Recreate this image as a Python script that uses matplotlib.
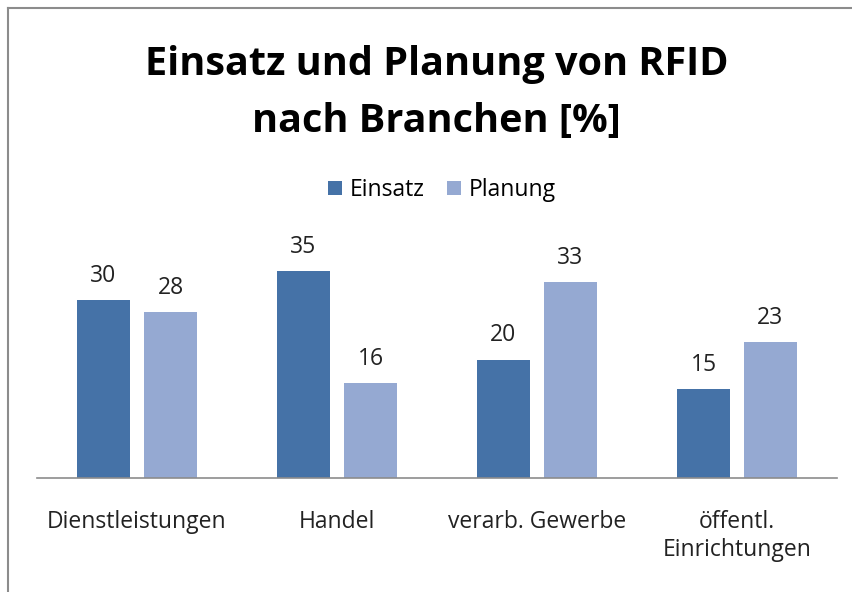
import matplotlib.pyplot as plt
import numpy as np
from matplotlib.lines import Line2D

plt.rcParams['font.family'] = ['Open Sans', 'DejaVu Sans']

branchen = ['Dienstleistungen', 'Handel', 'verarb. Gewerbe', 'öffentl.\nEinrichtungen']
einsatz = [30, 35, 20, 15]
planung = [28, 16, 33, 23]

c_einsatz = '#4572a7'
c_planung = '#95a9d2'

fig = plt.figure(figsize=(8.53, 5.92), dpi=100)
ax = fig.add_axes([37/853, 1 - 478/592, 800/853, 237/592])

x = np.arange(len(branchen))
w = 0.265
off = 0.1675
b1 = ax.bar(x - off, einsatz, w, color=c_einsatz, label='Einsatz')
b2 = ax.bar(x + off, planung, w, color=c_planung, label='Planung')

for bars, vals in ((b1, einsatz), (b2, planung)):
    for r, v in zip(bars, vals):
        ax.annotate(str(v), (r.get_x() + r.get_width()/2, v), xytext=(0, 13),
                    textcoords='offset points', ha='center', va='baseline',
                    fontsize=16.5, color='#222222')

ax.set_xlim(-0.5, len(branchen) - 0.5)
ax.set_ylim(0, 40)
ax.set_yticks([])
ax.set_xticks(x)
ax.set_xticklabels(branchen, fontsize=16.5, color='#222222', linespacing=1.25)
ax.tick_params(axis='x', length=0, pad=23)
for s in ('top', 'right', 'left'):
    ax.spines[s].set_visible(False)
ax.spines['bottom'].set_color('#8c8c8c')
ax.spines['bottom'].set_linewidth(1.2)

fig.text(0.512, 1 - 93/592, 'Einsatz und Planung von RFID\nnach Branchen [%]',
         ha='center', va='center', fontsize=28.5, fontweight='bold',
         linespacing=1.62)

fig.legend(handles=[b1, b2], labels=['Einsatz', 'Planung'], loc='center',
           bbox_to_anchor=(442/853, 1 - 190/592), ncol=2, frameon=False,
           fontsize=16.5, handlelength=0.6, handleheight=0.6, handletextpad=0.35,
           columnspacing=1.0)

# frame (only left and top edges visible in the crop)
fig.add_artist(Line2D([8/853, 8/853], [0, 1 - 8/592], color='#8c8c8c', lw=1.5))
fig.add_artist(Line2D([8/853, 1], [1 - 8/592, 1 - 8/592], color='#8c8c8c', lw=1.5))

fig.savefig('out.png', dpi=100)
